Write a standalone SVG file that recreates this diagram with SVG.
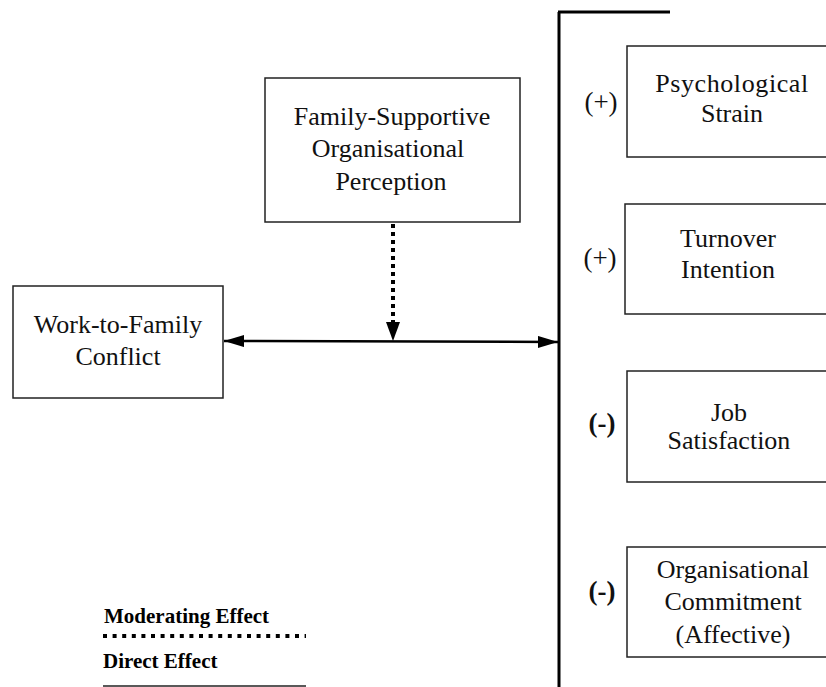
<svg xmlns="http://www.w3.org/2000/svg" width="826" height="687" viewBox="0 0 826 687">
<style>
.box{fill:#fff;stroke:#222;stroke-width:1.5}
.t{font-family:"Liberation Serif","Times New Roman",serif;font-size:26px;fill:#111;text-anchor:middle}
.s{font-family:"Liberation Serif","Times New Roman",serif;font-size:27px;fill:#111;text-anchor:middle}
.sb{font-family:"Liberation Serif","Times New Roman",serif;font-size:27px;font-weight:bold;fill:#111;text-anchor:middle}
.lg{font-family:"Liberation Serif","Times New Roman",serif;font-size:21px;font-weight:bold;fill:#000}
</style>
<defs>
<marker id="ah" viewBox="0 0 20 12" refX="20" refY="6" markerWidth="20" markerHeight="12" markerUnits="userSpaceOnUse" orient="auto-start-reverse">
<path d="M0,0 L20,6 L0,12 Z" fill="#000"/>
</marker>
</defs>
<g id="connectors">
<line x1="559" y1="12" x2="559" y2="687" stroke="#000" stroke-width="3"/>
<line x1="558" y1="12" x2="670" y2="12" stroke="#000" stroke-width="3"/>
<line x1="224" y1="341" x2="558" y2="342" stroke="#000" stroke-width="2.5" marker-start="url(#ah)" marker-end="url(#ah)"/>
<line x1="393" y1="224" x2="393" y2="322" stroke="#000" stroke-width="4" stroke-dasharray="4 4"/>
<path d="M386,322 L400,322 L393,341 Z" fill="#000"/>
</g>
<g id="work-family">
<rect class="box" x="13" y="286" width="210" height="112"/>
<text class="t" x="118" y="333">Work-to-Family</text>
<text class="t" x="118" y="365">Conflict</text>
</g>
<g id="family-supportive">
<rect class="box" x="265" y="78" width="255" height="144"/>
<text class="t" x="392" y="125">Family-Supportive</text>
<text class="t" x="388" y="157">Organisational</text>
<text class="t" x="391" y="190">Perception</text>
</g>
<g id="psych-strain">
<rect class="box" x="627" y="46" width="220" height="111"/>
<text class="t" x="732" y="92" letter-spacing="0.6">Psychological</text>
<text class="t" x="732" y="122">Strain</text>
<text class="s" x="601" y="111">(+)</text>
</g>
<g id="turnover">
<rect class="box" x="625" y="204" width="220" height="110"/>
<text class="t" x="728" y="247">Turnover</text>
<text class="t" x="728" y="278">Intention</text>
<text class="s" x="600" y="267">(+)</text>
</g>
<g id="job-satisfaction">
<rect class="box" x="627" y="371" width="220" height="111"/>
<text class="t" x="729" y="421">Job</text>
<text class="t" x="729" y="449">Satisfaction</text>
<text class="sb" x="602" y="432">(-)</text>
</g>
<g id="org-commitment">
<rect class="box" x="627" y="547" width="220" height="110"/>
<text class="t" x="733" y="578">Organisational</text>
<text class="t" x="733" y="610">Commitment</text>
<text class="t" x="733" y="643">(Affective)</text>
<text class="sb" x="602" y="600">(-)</text>
</g>
<g id="legend">
<text class="lg" x="104" y="623">Moderating Effect</text>
<line x1="103" y1="636" x2="306" y2="636" stroke="#000" stroke-width="4" stroke-dasharray="4 5.6"/>
<text class="lg" x="103" y="668">Direct Effect</text>
<line x1="103" y1="686" x2="306" y2="686" stroke="#222" stroke-width="1.5"/>
</g>
</svg>
